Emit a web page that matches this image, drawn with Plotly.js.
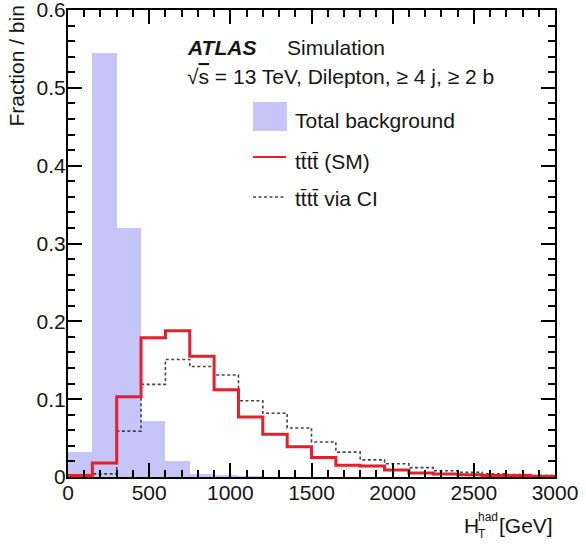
<!DOCTYPE html>
<html>
<head>
<meta charset="utf-8">
<script src="https://cdn.plot.ly/plotly-3.0.1.min.js"></script>
<style>
  html, body { margin: 0; padding: 0; background: #fff; }
  #plot { width: 586px; height: 545px; }
</style>
</head>
<body>
<div id="plot"></div>
<script>
// H_T^had distributions, normalised to unit area, 150 GeV bins from 0 to 3000 GeV
const binWidth = 150;
const binLow = [0, 150, 300, 450, 600, 750, 900, 1050, 1200, 1350,
                1500, 1650, 1800, 1950, 2100, 2250, 2400, 2550, 2700, 2850];

const background = [0.032, 0.545, 0.320, 0.072, 0.021, 0.004, 0.002, 0.001, 0.0005, 0.0003,
                    0.0002, 0.0001, 0.0001, 0, 0, 0, 0, 0, 0, 0];
const ttttSM = [0.002, 0.018, 0.103, 0.179, 0.188, 0.155, 0.112, 0.077, 0.055, 0.039,
                0.025, 0.015, 0.014, 0.009, 0.005, 0.004, 0.003, 0.002, 0.002, 0.001];
const ttttCI = [0.001, 0.004, 0.059, 0.119, 0.151, 0.142, 0.131, 0.098, 0.082, 0.063,
                0.045, 0.032, 0.022, 0.017, 0.012, 0.008, 0.006, 0.004, 0.003, 0.002];

const seriesNames = ['Total background', 'tt\u0304tt\u0304 (SM)', 'tt\u0304tt\u0304 via CI'];
const xTicks = [0, 500, 1000, 1500, 2000, 2500, 3000];
const yTicks = [0, 0.1, 0.2, 0.3, 0.4, 0.5, 0.6];
const xRange = [0, 3000];
const yRange = [0, 0.6];
const xMinorStep = 100;
const yMinorStep = 0.02;

const FONT = '"Liberation Sans", Arial, Helvetica, sans-serif';
const TXT = '#151515';
const FS = 21;

// bin centres for the filled histogram
const centres = binLow.map(x => x + binWidth / 2);
// step outline: bin edges with last value repeated at the upper edge
const edges = binLow.concat([binLow[binLow.length - 1] + binWidth]);
const stepY = arr => arr.concat([arr[arr.length - 1]]);

const traces = [
  {
    type: 'bar', x: centres, y: background, width: binWidth,
    marker: { color: '#c5c5f7', line: { width: 0 } },
    name: seriesNames[0]
  },
  {
    type: 'scatter', mode: 'lines', x: edges, y: stepY(ttttCI),
    line: { shape: 'hv', color: '#454545', width: 1.6, dash: '3px,2.5px' },
    name: seriesNames[2]
  },
  {
    type: 'scatter', mode: 'lines', x: edges, y: stepY(ttttSM),
    line: { shape: 'hv', color: '#e3202b', width: 3 },
    name: seriesNames[1]
  }
];

// plot area in pixels: x 68..555, y 10..477
const L = 68, R = 555, T = 10, B = 477;
const W = R - L, H = B - T;
const px = x => (x - L) / W;
const py = y => (B - y) / H;

const base = { xref: 'paper', yref: 'paper', showarrow: false,
               font: { family: FONT, size: FS, color: TXT } };
const small = { family: FONT, size: 12, color: TXT };

const annotations = [
  { text: '<b><i>ATLAS</i></b>', x: px(185), y: py(48), xanchor: 'left', yanchor: 'middle' },
  { text: 'Simulation', x: px(285), y: py(48), xanchor: 'left', yanchor: 'middle' },
  { text: '\u221A<span style="text-decoration:overline">s</span> = 13 TeV, Dilepton, \u2265 4 j, \u2265 2 b',
    x: px(185), y: py(77), xanchor: 'left', yanchor: 'middle' },
  { text: seriesNames[0], x: px(293), y: py(120), xanchor: 'left', yanchor: 'middle' },
  { text: seriesNames[1], x: px(293), y: py(161), xanchor: 'left', yanchor: 'middle' },
  { text: seriesNames[2], x: px(293), y: py(199), xanchor: 'left', yanchor: 'middle' },
  // x-axis title: H with stacked sub/superscript, then the unit
  { text: 'H', x: px(462), y: py(525), xanchor: 'left', yanchor: 'middle' },
  { text: 'T', x: px(476), y: py(534), xanchor: 'left', yanchor: 'middle', font: small },
  { text: 'had', x: px(476), y: py(517), xanchor: 'left', yanchor: 'middle', font: small },
  { text: '[GeV]', x: px(555), y: py(525), xanchor: 'right', yanchor: 'middle' },
  { text: 'Fraction / bin', textangle: -90, x: px(16), y: py(4), xanchor: 'center', yanchor: 'top' }
].map(a => Object.assign({}, base, a));

// legend keys
const shapes = [
  { type: 'rect', x0: px(253), x1: px(287), y0: py(131), y1: py(102),
    fillcolor: '#c5c5f7', line: { width: 0 } },
  { type: 'line', x0: px(253), x1: px(286), y0: py(157), y1: py(157),
    line: { color: '#e3202b', width: 2 } },
  { type: 'line', x0: px(253), x1: px(286), y0: py(197), y1: py(197),
    line: { color: '#454545', width: 1.4, dash: '3px,2.5px' } }
].map(s => Object.assign({ xref: 'paper', yref: 'paper' }, s));

// inward tick marks (major + minor), mirrored onto the top and right edges
const MAJ = 14, MIN = 7;
const minorTicks = step => ({ dtick: step, ticks: 'inside', ticklen: MIN, tickwidth: 2, tickcolor: '#000' });

const layout = {
  width: 586, height: 545,
  margin: { l: L, r: 586 - R, t: T, b: 545 - B },
  showlegend: false, bargap: 0,
  xaxis: {
    range: xRange, showline: true, mirror: 'allticks', linecolor: '#000', linewidth: 2,
    ticks: 'inside', ticklen: MAJ, tickwidth: 2, tickcolor: '#000',
    minor: minorTicks(xMinorStep),
    tickmode: 'array', tickvals: xTicks, showgrid: false, zeroline: false,
    tickfont: { family: FONT, size: FS, color: TXT }, ticklabelstandoff: -4
  },
  yaxis: {
    range: [yRange[0], yRange[1] + 1e-6], showline: true, mirror: 'allticks', linecolor: '#000', linewidth: 2,
    ticks: 'inside', ticklen: MAJ, tickwidth: 2, tickcolor: '#000',
    minor: minorTicks(yMinorStep),
    tickmode: 'array', tickvals: yTicks, showgrid: false, zeroline: false,
    tickfont: { family: FONT, size: FS, color: TXT }, ticklabelstandoff: -4,
    ticklabeloverflow: 'allow'
  },
  annotations: annotations,
  shapes: shapes
};

Plotly.newPlot('plot', traces, layout, { staticPlot: true });
</script>
</body>
</html>
